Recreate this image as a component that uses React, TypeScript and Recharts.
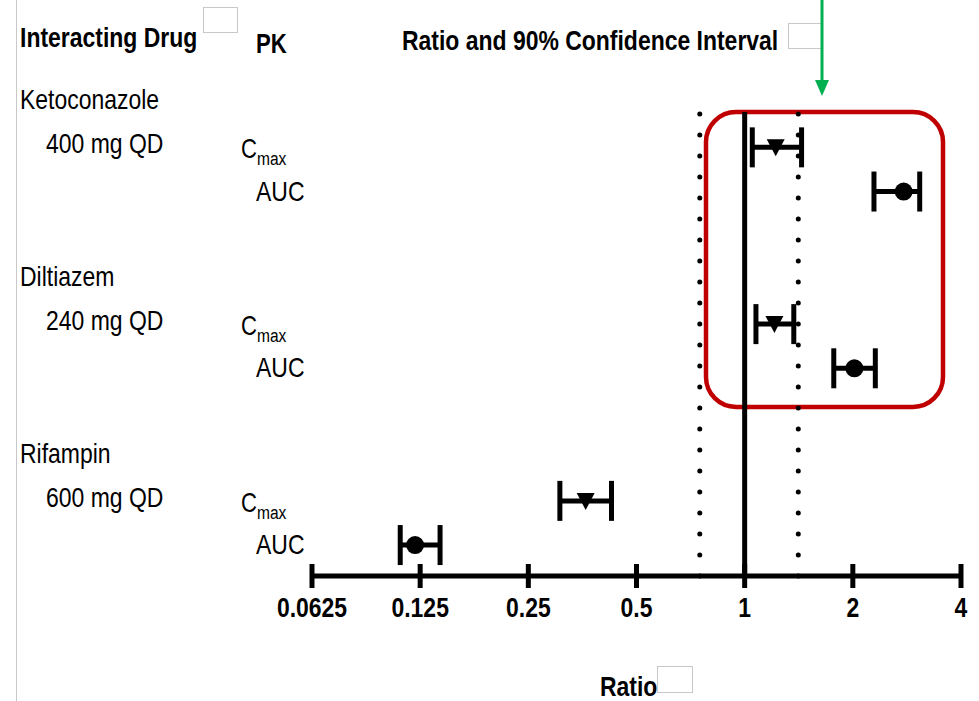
import React from 'react';
import { ScatterChart, Scatter, XAxis, YAxis, ErrorBar, ReferenceLine } from 'recharts';

const drugs = ['Ketoconazole', 'Diltiazem', 'Rifampin'];
const doses = ['400 mg QD', '240 mg QD', '600 mg QD'];
const cmaxRatio = [1.22, 1.21, 0.361];
const cmaxLo = [1.05, 1.075, 0.306];
const cmaxHi = [1.44, 1.37, 0.426];
const aucRatio = [2.77, 2.02, 0.121];
const aucLo = [2.29, 1.77, 0.11];
const aucHi = [3.07, 2.31, 0.142];
const xTicks = [0.0625, 0.125, 0.25, 0.5, 1, 2, 4];
const xTickLabels = ['0.0625', '0.125', '0.25', '0.5', '1', '2', '4'];
const noEffect = 1;
const boundaries = [0.75, 1.41];

const FONT = "'Liberation Sans', Arial, sans-serif";
const SQUEEZE = 0.82;

const cmaxData = drugs.map((d, i) => ({
  ratio: cmaxRatio[i],
  row: i * 4,
  err: [cmaxRatio[i] - cmaxLo[i], cmaxHi[i] - cmaxRatio[i]],
}));
const aucData = drugs.map((d, i) => ({
  ratio: aucRatio[i],
  row: i * 4 + 1,
  err: [aucRatio[i] - aucLo[i], aucHi[i] - aucRatio[i]],
}));
const rowTicks = drugs.flatMap((d, i) => [i * 4, i * 4 + 1]);

const NText = (p: any) => (
  <g transform={`translate(${p.x},${p.y}) scale(${SQUEEZE},1)`}>
    <text
      x={0}
      y={0}
      textAnchor={p.anchor || 'start'}
      fontFamily={FONT}
      fontWeight={p.bold ? 'bold' : 'normal'}
      fontSize={p.size}
      fill="#000"
    >
      {p.children}
    </text>
  </g>
);

const XTick = (props: any) => {
  const { x, y, payload, index } = props;
  const idx = xTicks.indexOf(payload.value);
  return (
    <g>
      <line x1={x} x2={x} y1={y - 12} y2={y + 12} stroke="#000" strokeWidth={5} />
      <NText x={x} y={y + 41} anchor="middle" bold size={28}>
        {xTickLabels[idx >= 0 ? idx : index]}
      </NText>
    </g>
  );
};

const YTick = (props: any) => {
  const { y, payload } = props;
  const v = payload.value;
  const g = Math.floor(v / 4);
  const isCmax = v % 4 === 0;
  if (isCmax) {
    return (
      <g>
        <NText x={20} y={y - 38} size={28}>{drugs[g]}</NText>
        <NText x={46} y={y + 6} size={28}>{doses[g]}</NText>
        <NText x={241} y={y + 11} size={27}>
          C<tspan fontSize={19} dy={7}>max</tspan>
        </NText>
      </g>
    );
  }
  return (
    <NText x={256} y={y + 9} size={28}>AUC</NText>
  );
};

const TriangleDown = (props: any) => {
  const { cx, cy } = props;
  return <polygon points={`${cx - 9},${cy - 8} ${cx + 9},${cy - 8} ${cx},${cy + 9}`} fill="#000" />;
};
const Dot = (props: any) => {
  const { cx, cy } = props;
  return <circle cx={cx} cy={cy} r={9} fill="#000" />;
};

export default function App() {
  return (
    <div style={{ position: 'absolute', left: 0, top: 0, width: 979, height: 701, background: '#fff' }}>
      <svg width={979} height={701} style={{ position: 'absolute', left: 0, top: 0 }}>
        <line x1={16.5} x2={16.5} y1={0} y2={701} stroke="#c8c8c8" strokeWidth={1} />
        <rect x={203.5} y={7.5} width={34} height={25} fill="#fff" stroke="#c8c8c8" strokeWidth={1} />
        <rect x={788.5} y={23.5} width={33} height={25} fill="#fff" stroke="#c8c8c8" strokeWidth={1} />
        <rect x={657.5} y={666.5} width={35} height={26} fill="#fff" stroke="#c8c8c8" strokeWidth={1} />
        <NText x={20} y={47} bold size={28}>Interacting Drug</NText>
        <NText x={256} y={53} bold size={27}>PK</NText>
        <NText x={402} y={50} bold size={28}>Ratio and 90% Confidence Interval</NText>
        <NText x={600} y={696} bold size={28}>Ratio</NText>
        <line x1={822} x2={822} y1={0} y2={84} stroke="#00b050" strokeWidth={3} />
        <polygon points="815,80 829,80 822,96" fill="#00b050" />
        <rect x={706} y={112} width={237} height={295} rx={30} ry={30} fill="none" stroke="#c00000" strokeWidth={4.5} />
      </svg>
      <ScatterChart width={979} height={701} margin={{ top: 112, right: 18, bottom: 65, left: 0 }}>
        <XAxis
          type="number"
          dataKey="ratio"
          scale="log"
          domain={[0.0625, 4]}
          allowDataOverflow
          ticks={xTicks}
          interval={0}
          height={60}
          tickSize={0}
          tickMargin={0}
          tickLine={false}
          axisLine={{ stroke: '#000', strokeWidth: 5 }}
          tick={<XTick />}
        />
        <YAxis
          type="number"
          dataKey="row"
          domain={[-0.8, 9.7]}
          reversed
          allowDataOverflow
          ticks={rowTicks}
          interval={0}
          width={312}
          tickSize={0}
          axisLine={false}
          tickLine={false}
          tick={<YTick />}
        />
        <ReferenceLine x={boundaries[0]} stroke="#000" strokeWidth={5} strokeDasharray="0 21" strokeLinecap="round" />
        <ReferenceLine x={boundaries[1]} stroke="#000" strokeWidth={5} strokeDasharray="0 21" strokeLinecap="round" />
        <ReferenceLine x={noEffect} stroke="#000" strokeWidth={5} />
        <Scatter data={cmaxData} shape={<TriangleDown />} isAnimationActive={false} fill="#000">
          <ErrorBar dataKey="err" direction="x" width={20} stroke="#000" strokeWidth={5} isAnimationActive={false} />
        </Scatter>
        <Scatter data={aucData} shape={<Dot />} isAnimationActive={false} fill="#000">
          <ErrorBar dataKey="err" direction="x" width={20} stroke="#000" strokeWidth={5} isAnimationActive={false} />
        </Scatter>
      </ScatterChart>
    </div>
  );
}
